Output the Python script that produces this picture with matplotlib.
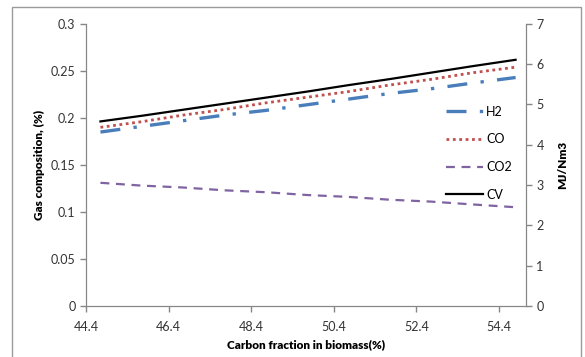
import matplotlib.pyplot as plt
from matplotlib.patches import Rectangle

plt.rcParams['font.family'] = ['Lato', 'DejaVu Sans']

# carbon fraction in biomass (%)
carbon = [44.75, 45.75, 46.75, 47.75, 48.75, 49.75, 50.75, 51.75, 52.75, 53.75, 54.8]
h2 = [0.185, 0.191, 0.197, 0.203, 0.208, 0.214, 0.220, 0.226, 0.231, 0.237, 0.243]
co = [0.190, 0.196, 0.203, 0.209, 0.216, 0.222, 0.228, 0.235, 0.241, 0.248, 0.254]
co2 = [0.131, 0.128, 0.126, 0.123, 0.121, 0.118, 0.116, 0.113, 0.111, 0.108, 0.105]
cv = [4.58, 4.72, 4.87, 5.02, 5.17, 5.32, 5.48, 5.63, 5.79, 5.95, 6.11]

xticks = [44.4, 46.4, 48.4, 50.4, 52.4, 54.4]

fig, ax1 = plt.subplots(figsize=(5.85, 3.57), dpi=100)
fig.subplots_adjust(left=0.147, right=0.899, bottom=0.143, top=0.933)

l1, = ax1.plot(carbon, h2, color='#4a7ebb', lw=2.4, linestyle=(0, (6, 4, 1, 4)), label='H2')
l2, = ax1.plot(carbon, co, color='#c0504d', lw=2.0, linestyle=(0, (1, 1.3)), label='CO')
l3, = ax1.plot(carbon, co2, color='#8064a2', lw=1.6, linestyle=(0, (4, 3)), label='CO2')

ax2 = ax1.twinx()
l4, = ax2.plot(carbon, cv, color='black', lw=1.6, label='CV')

ax1.set_xlim(44.4, 55.05)
ax1.set_ylim(0, 0.3)
ax2.set_ylim(0, 7)
ax1.set_xticks(xticks)
ax1.set_xticklabels([str(t) for t in xticks])
ax1.set_yticks([0, 0.05, 0.1, 0.15, 0.2, 0.25, 0.3])
ax1.set_yticklabels(['0', '0.05', '0.1', '0.15', '0.2', '0.25', '0.3'])
ax2.set_yticks(range(8))

for ax in (ax1, ax2):
    for s in ax.spines.values():
        s.set_color('#868686')
    ax.spines['top'].set_visible(False)
    ax.tick_params(colors='#868686', labelcolor='#333333', labelsize=9, length=4, width=1)
ax1.tick_params(axis='x', pad=7)

ax1.set_xlabel('Carbon fraction in biomass(%)', fontsize=8.5, fontweight='heavy', labelpad=4)
ax1.set_ylabel('Gas composition, (%)', fontsize=8.5, fontweight='heavy', labelpad=4)
ax2.set_ylabel('MJ/Nm3', fontsize=8.5, fontweight='heavy', labelpad=10)

fig.legend(handles=[l1, l2, l3, l4], loc='upper left', bbox_to_anchor=(0.743, 0.735),
           frameon=False, fontsize=9, handlelength=3.0, handletextpad=0.2, labelspacing=1.25)

fig.patches.append(Rectangle((12 / 585, -0.1), (581 - 12) / 585, 1.1 - 7 / 357,
                             transform=fig.transFigure, fill=False, edgecolor='#9a9a9a', lw=1))

fig.savefig('out.png', dpi=100)
